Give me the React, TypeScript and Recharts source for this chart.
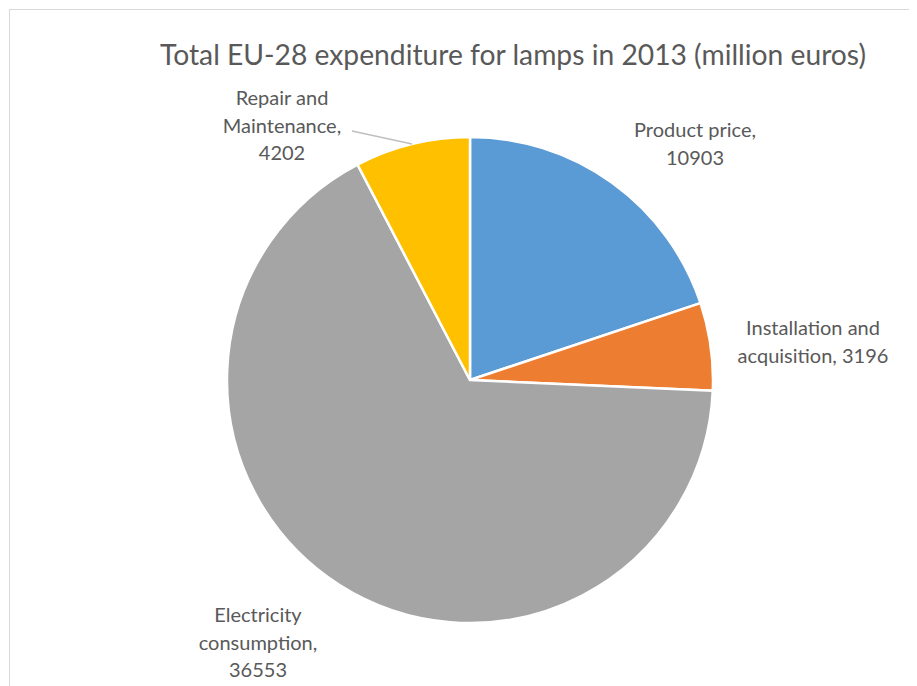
import React from "react";
import { PieChart, Pie, Cell } from "recharts";

const categories = [
  "Product price",
  "Installation and acquisition",
  "Electricity consumption",
  "Repair and Maintenance",
];
const values = [10903, 3196, 36553, 4202];
const colors = ["#5B9BD5", "#ED7D31", "#A5A5A5", "#FFC000"];

const title = "Total EU-28 expenditure for lamps in 2013 (million euros)";

// how each data label is wrapped, like the Excel original
const labelLines = [
  ["Product price,", "{v}"],
  ["Installation and", "acquisition, {v}"],
  ["Electricity", "consumption,", "{v}"],
  ["Repair and", "Maintenance,", "{v}"],
];

const data = categories.map((name, i) => ({ name, value: values[i] }));

const W = 907;
const H = 676;
const CX = 460;
const CY = 370;
const R = 243;
const TEXT = "#595959";
const FONT = "Lato, 'Open Sans', sans-serif";

// label anchor (centre of first baseline) relative to pie centre
const labelPos = [
  [225, -243],
  [343, -45],
  [-212, 242],
  [-188, -275],
];
const lineGap = 27.5;

const renderLabel = (props: any) => {
  const { cx, cy, midAngle, outerRadius, index, value } = props;
  const [dx, dy] = labelPos[index];
  const x = cx + dx;
  const y = cy + dy;
  const rad = (Math.PI / 180) * -midAngle;
  const ex = cx + outerRadius * Math.cos(rad);
  const ey = cy + outerRadius * Math.sin(rad);
  return (
    <g key={`lbl-${index}`}>
      {index === 3 && (
        <line x1={cx - 118} y1={cy - 249} x2={ex} y2={ey} stroke="#BFBFBF" strokeWidth={1.3} />
      )}
      <text x={x} y={y} fill={TEXT} fontSize={20} fontFamily={FONT} textAnchor="middle">
        {labelLines[index].map((ln, j) => (
          <tspan key={j} x={x} y={y + j * lineGap}>
            {ln.replace("{v}", String(value))}
          </tspan>
        ))}
      </text>
    </g>
  );
};

export default function App() {
  return (
    <div
      style={{
        position: "relative",
        marginLeft: 1,
        marginTop: 1,
        width: W,
        height: H,
        borderTop: "1px solid #D9D9D9",
        borderLeft: "1px solid #D9D9D9",
        background: "#fff",
      }}
    >
      <svg width={W} height={H} style={{ position: "absolute", left: 0, top: 0 }}>
        <text
          x={503}
          y={55}
          fill={TEXT}
          fontSize={29}
          fontFamily={FONT}
          textAnchor="middle"
          textLength={706}
          lengthAdjust="spacingAndGlyphs"
        >
          {title}
        </text>
      </svg>
      <div style={{ position: "absolute", left: 0, top: 0 }}>
        <PieChart width={W} height={H} margin={{ top: 0, right: 0, bottom: 0, left: 0 }}>
          <Pie
            data={data}
            dataKey="value"
            nameKey="name"
            cx={CX}
            cy={CY}
            outerRadius={R}
            startAngle={90}
            endAngle={-270}
            stroke="#fff"
            strokeWidth={2.5}
            label={renderLabel}
            labelLine={false}
            isAnimationActive={false}
          >
            {data.map((d, i) => (
              <Cell key={d.name} fill={colors[i]} />
            ))}
          </Pie>
        </PieChart>
      </div>
    </div>
  );
}
